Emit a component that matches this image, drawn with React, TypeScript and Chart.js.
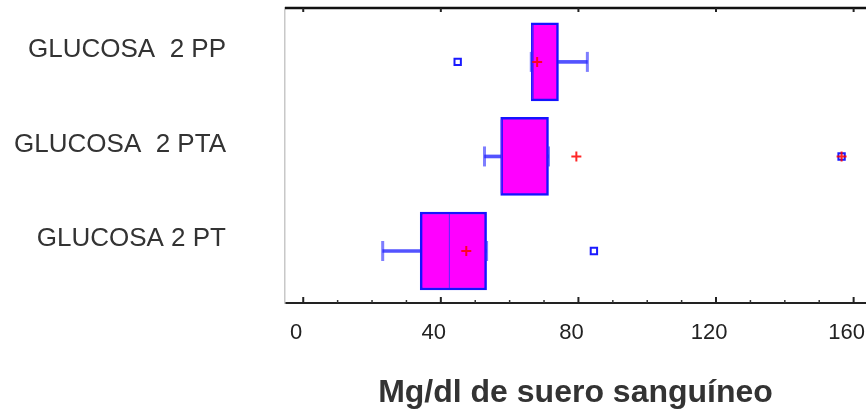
import React, { useEffect, useRef } from 'react';
import { Chart, registerables } from 'chart.js';

Chart.register(...registerables);

// ---- data ----
const CATEGORIES = ['GLUCOSA  2 PP', 'GLUCOSA  2 PTA', 'GLUCOSA 2 PT'];
const WHISKER_MIN = [66.3, 52.7, 23.1];
const Q1 = [66.3, 57.4, 34.0];
const MEDIAN = [66.6, 57.6, 42.5];
const Q3 = [74.2, 71.3, 53.3];
const WHISKER_MAX = [82.6, 71.3, 53.3];
const MEAN = [68.0, 79.4, 47.4];
const OUTLIERS = [44.9, 156.5, 84.5];
const FAR_OUT = [null, 156.5, null];
const X_TICKS = [0, 40, 80, 120, 160];
const X_MINOR_TICKS = [10, 20, 30, 50, 60, 70, 90, 100, 110, 130, 140, 150];
const X_TITLE = 'Mg/dl de suero sanguíneo';

const FONT = '"Liberation Sans", Arial, Helvetica, sans-serif';

const framePlugin = {
  id: 'frame',
  afterDatasetsDraw(chart: any) {
    const { ctx, chartArea, scales } = chart;
    const xs = scales.x;
    ctx.save();
    // top border
    ctx.strokeStyle = '#111';
    ctx.lineWidth = 2.5;
    ctx.beginPath();
    ctx.moveTo(chartArea.left, chartArea.top);
    ctx.lineTo(chartArea.right, chartArea.top);
    ctx.stroke();
    // top ticks (inward)
    ctx.lineWidth = 2;
    ctx.strokeStyle = '#222';
    X_TICKS.forEach((v) => {
      const px = xs.getPixelForValue(v);
      ctx.beginPath();
      ctx.moveTo(px, chartArea.top);
      ctx.lineTo(px, chartArea.top + 4);
      ctx.stroke();
    });
    // bottom ticks (inward)
    X_TICKS.forEach((v) => {
      const px = xs.getPixelForValue(v);
      ctx.beginPath();
      ctx.moveTo(px, chartArea.bottom);
      ctx.lineTo(px, chartArea.bottom - 6);
      ctx.stroke();
    });
    ctx.lineWidth = 1.5;
    ctx.strokeStyle = '#333';
    X_MINOR_TICKS.forEach((v) => {
      const px = xs.getPixelForValue(v);
      ctx.beginPath();
      ctx.moveTo(px, chartArea.bottom);
      ctx.lineTo(px, chartArea.bottom - 3);
      ctx.stroke();
    });
    ctx.restore();
  },
};

export default function App() {
  const ref = useRef<HTMLCanvasElement | null>(null);

  useEffect(() => {
    document.body.style.margin = '0';
    const pos = CATEGORIES.map((_, i) => i + 1);
    const chart = new Chart(ref.current as HTMLCanvasElement, {
      type: 'bar',
      data: {
        datasets: [
          {
            type: 'bar',
            label: 'box',
            data: pos.map((y, i) => ({ x: [Q1[i], Q3[i]], y })) as any,
            backgroundColor: '#ff00ff',
            borderColor: '#1414ff',
            borderWidth: 2.5,
            borderSkipped: false,
            barThickness: 78,
            grouped: false,
            order: 5,
          } as any,
          {
            type: 'bar',
            label: 'lowWhisker',
            data: pos.map((y, i) => ({ x: [WHISKER_MIN[i], Q1[i]], y })) as any,
            backgroundColor: 'rgba(40,40,255,0.8)',
            borderWidth: 0,
            barThickness: 3,
            grouped: false,
            order: 6,
          } as any,
          {
            type: 'bar',
            label: 'highWhisker',
            data: pos.map((y, i) => ({ x: [Q3[i], WHISKER_MAX[i]], y })) as any,
            backgroundColor: 'rgba(40,40,255,0.8)',
            borderWidth: 0,
            barThickness: 3,
            grouped: false,
            order: 6,
          } as any,
          {
            type: 'scatter',
            label: 'caps',
            data: [
              ...pos.map((y, i) => ({ x: WHISKER_MIN[i], y })),
              ...pos.map((y, i) => ({ x: WHISKER_MAX[i], y })),
            ],
            pointStyle: 'line',
            rotation: 90,
            radius: 10,
            borderColor: 'rgba(40,40,255,0.6)',
            borderWidth: 3,
            order: 3,
          } as any,
          {
            type: 'scatter',
            label: 'median',
            data: pos.map((y, i) => ({ x: MEDIAN[i], y })),
            pointStyle: 'line',
            rotation: 90,
            radius: 37,
            borderColor: 'rgba(90,40,255,0.9)',
            borderWidth: 1.2,
            order: 3,
          } as any,
          {
            type: 'scatter',
            label: 'outliers',
            data: pos.map((y, i) => ({ x: OUTLIERS[i], y })),
            pointStyle: 'rect',
            radius: 4.5,
            borderColor: '#1a1aff',
            backgroundColor: '#ffffff',
            borderWidth: 2,
            order: 2,
          } as any,
          {
            type: 'scatter',
            label: 'mean',
            data: pos.map((y, i) => ({ x: MEAN[i], y })),
            pointStyle: 'cross',
            radius: 5,
            borderColor: 'rgba(255,0,0,0.85)',
            borderWidth: 2,
            order: 1,
          } as any,
          {
            type: 'scatter',
            label: 'farOut',
            data: pos
              .map((y, i) => (FAR_OUT[i] == null ? null : { x: FAR_OUT[i], y }))
              .filter((d) => d !== null),
            pointStyle: 'cross',
            radius: 5,
            borderColor: 'rgba(255,0,0,0.85)',
            borderWidth: 2,
            order: 1,
          } as any,
        ],
      },
      options: {
        indexAxis: 'y',
        animation: false,
        responsive: false,
        layout: { autoPadding: false, padding: { top: 8, left: 0, right: 0, bottom: 0 } },
        plugins: {
          legend: { display: false },
          tooltip: { enabled: false },
        },
        scales: {
          x: {
            type: 'linear',
            min: -5.3,
            max: 163.6,
            offset: false,
            afterBuildTicks: (s: any) => {
              s.ticks = X_TICKS.map((v) => ({ value: v }));
            },
            ticks: {
              font: { family: FONT, size: 22 },
              color: '#222',
              padding: 17,
              labelOffset: -7,
            },
            grid: { display: false, drawTicks: false },
            border: { display: true, color: '#222', width: 2 },
            title: {
              display: true,
              text: X_TITLE,
              font: { family: FONT, size: 32, weight: 'bold' },
              color: '#333',
              padding: { top: 0, bottom: 0 },
            },
            afterFit: (s: any) => {
              s.height = 109;
              s.paddingLeft = 0;
              s.paddingRight = 0;
            },
          } as any,
          y: {
            type: 'linear',
            reverse: true,
            min: 0.43,
            max: 3.55,
            offset: false,
            afterBuildTicks: (s: any) => {
              s.ticks = pos.map((v) => ({ value: v }));
            },
            ticks: {
              callback: (_v: any, i: number) => CATEGORIES[i],
              font: { family: FONT, size: 26 },
              color: '#333',
              padding: 59,
              labelOffset: -12,
            },
            grid: { display: false, drawTicks: false, offset: false },
            border: { display: true, color: '#c8c8c8', width: 1.5 },
            afterFit: (s: any) => {
              s.width = 285;
              s.paddingTop = 0;
              s.paddingBottom = 0;
            },
          } as any,
        },
      },
      plugins: [framePlugin],
    });
    return () => chart.destroy();
  }, []);

  return (
    <div style={{ width: 866, height: 412, background: '#ffffff' }}>
      <canvas ref={ref} width={866} height={412} style={{ width: 866, height: 412, display: 'block' }} />
    </div>
  );
}
